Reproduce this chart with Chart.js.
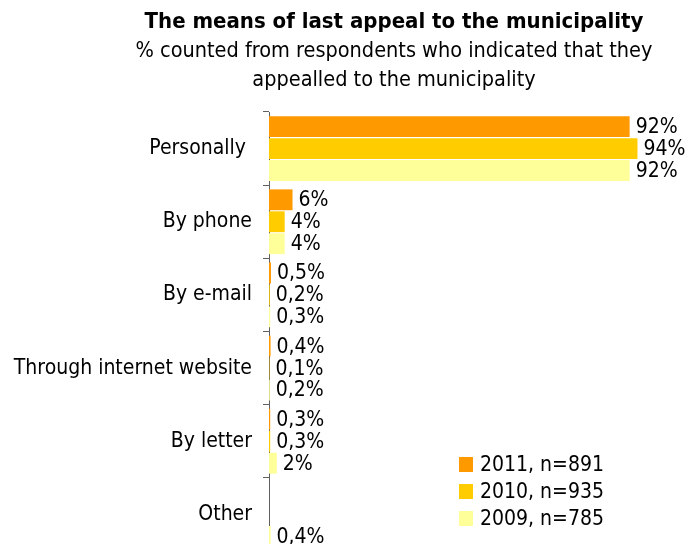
<!DOCTYPE html>
<html>
<head>
<meta charset="utf-8">
<script src="https://cdn.jsdelivr.net/npm/chart.js@4.4.1/dist/chart.umd.min.js"></script>
<style>
  html, body { margin: 0; padding: 0; background: #fff; overflow: hidden; }
  body { width: 693px; height: 544px; position: relative; font-family: "DejaVu Sans Condensed", "DejaVu Sans", sans-serif; color: #000; }
  #head { position: absolute; left: 95px; top: 6px; width: 598px; text-align: center; line-height: 29px; font-size: 21.5px; }
  #head .main { font-weight: bold; font-size: 22px; }
  #chart { position: absolute; left: 0; top: 0; }
  #legend { position: absolute; left: 459px; top: 457px; font-size: 21px; }
  #legend .row { position: relative; height: 27px; }
  #legend .box { position: absolute; left: 0; top: 0; width: 14px; height: 15px; }
  #legend .txt { position: absolute; left: 21px; top: -5px; white-space: nowrap; line-height: 25px; }
</style>
</head>
<body>
<canvas id="chart" width="693" height="576"></canvas>
<div id="head">
  <div class="main">The means of last appeal to the municipality</div>
  <div>% counted from respondents who indicated that they</div>
  <div>appealled to the municipality</div>
</div>
<div id="legend"></div>
<script>
const categories = ['Personally ', 'By phone', 'By e-mail', 'Through internet website', 'By letter', 'Other'];
const values2011 = [92, 6, 0.5, 0.4, 0.3, null];
const values2010 = [94, 4, 0.2, 0.1, 0.3, null];
const values2009 = [92, 4, 0.3, 0.2, 2, 0.4];
const seriesNames = ['2011, n=891', '2010, n=935', '2009, n=785'];
const seriesColors = ['#FF9900', '#FFCC00', '#FFFF99'];

const fontFamily = '"DejaVu Sans Condensed", "DejaVu Sans", sans-serif';

function formatPct(v) {
    if (v < 1) return v.toFixed(1).replace('.', ',') + '%';
    return v + '%';
}

// value text right after the end of each bar
const barValueLabels = {
    id: 'barValueLabels',
    afterDatasetsDraw(chart) {
        const ctx = chart.ctx;
        ctx.save();
        ctx.font = '21px ' + fontFamily;
        ctx.fillStyle = '#000';
        ctx.textAlign = 'left';
        ctx.textBaseline = 'middle';
        chart.data.datasets.forEach((ds, i) => {
            chart.getDatasetMeta(i).data.forEach((bar, j) => {
                const v = ds.data[j];
                if (v == null) return;
                ctx.fillText(formatPct(v), bar.x + 6, bar.y + 1);
            });
        });
        ctx.restore();
    }
};

const allValues = [values2011, values2010, values2009];
const datasets = allValues.map((vals, i) => ({
    label: seriesNames[i],
    data: vals,
    backgroundColor: seriesColors[i],
    borderWidth: 0,
    categoryPercentage: 0.9,
    barPercentage: 0.95,
}));

// legend sits inside the plot, lower right
const legendEl = document.getElementById('legend');
seriesNames.forEach((name, i) => {
    const row = document.createElement('div');
    row.className = 'row';
    row.innerHTML = '<span class="box" style="background:' + seriesColors[i] + '"></span><span class="txt">' + name + '</span>';
    legendEl.appendChild(row);
});

const ctx = document.getElementById('chart').getContext('2d');
new Chart(ctx, {
    type: 'bar',
    data: {
        labels: categories,
        datasets: datasets,
    },
    options: {
        indexAxis: 'y',
        responsive: false,
        animation: false,
        layout: {
            // the plot runs past the bottom of the page, last row is cut
            padding: { top: 112, right: 32, bottom: 25, left: 0 }
        },
        plugins: {
            legend: { display: false },
            title: { display: false },
            tooltip: { enabled: false },
        },
        scales: {
            x: {
                display: false,
                min: 0,
                max: 100,
            },
            y: {
                grid: {
                    drawOnChartArea: false,
                    drawTicks: true,
                    tickLength: 6,
                    color: '#606060',
                    offset: true,
                },
                border: { display: true, color: '#606060', width: 1 },
                ticks: {
                    color: '#000',
                    padding: 11,
                    font: { family: fontFamily, size: 21 },
                },
                afterFit(scale) {
                    scale.width = 269;
                },
            },
        },
    },
    plugins: [barValueLabels],
});
</script>
</body>
</html>
